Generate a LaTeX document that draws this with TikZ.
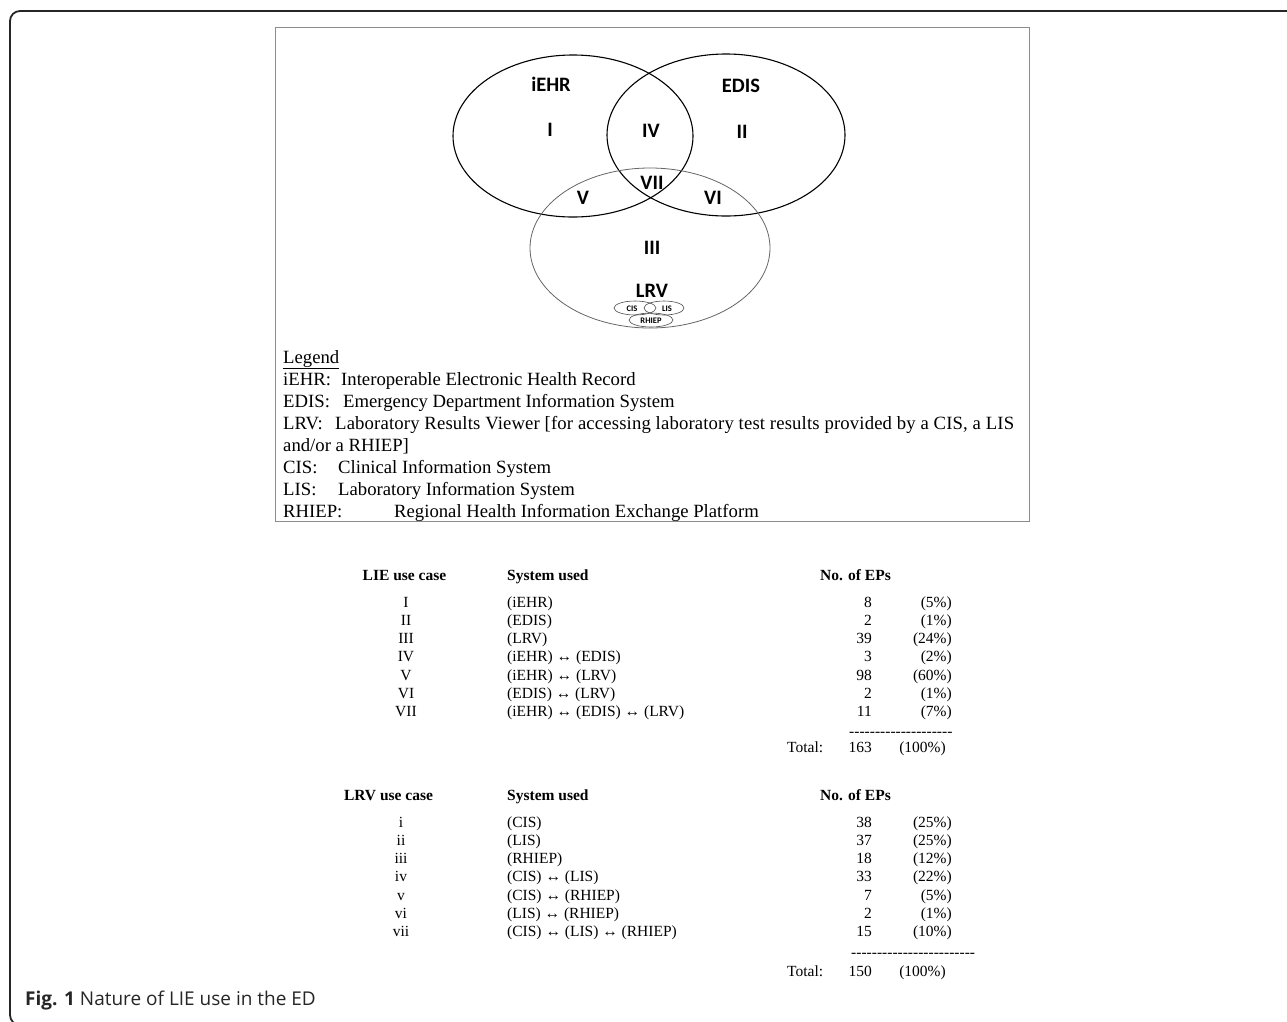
\documentclass[tikz,border=0pt]{standalone}
\usepackage{fontspec}
\setmainfont{Liberation Serif}
\newfontfamily\vennfont{Carlito}
\newfontfamily\capfont{Open Sans}
\newcommand\hyrun[1]{\foreach \q in {1,...,#1}{-\kern0pt}}
\begin{document}
\begin{tikzpicture}[x=1pt,y=-1pt,
  frame/.style={draw=black!85,line width=1.8pt,rounded corners=10pt},
  figbox/.style={draw=black!45,line width=1pt},
  setA/.style={draw=black,line width=1.1pt},
  setC/.style={draw=black!60,line width=0.8pt},
  small/.style={draw=black!70,line width=0.6pt},
  vl/.style={font=\vennfont\bfseries\fontsize{20.5}{24}\selectfont,inner sep=0pt},
  sl/.style={font=\vennfont\bfseries\fontsize{8.5}{10}\selectfont,inner sep=0pt},
  leg/.style={font=\fontsize{18.7}{22}\selectfont,inner sep=0pt,anchor=base west},
  tb/.style={font=\fontsize{15.5}{18}\selectfont,inner sep=0pt},
  th/.style={font=\bfseries\fontsize{15.5}{18}\selectfont,inner sep=0pt,anchor=base},
  cc/.style={tb,anchor=base},
  cw/.style={tb,anchor=base west},
  ce/.style={tb,anchor=base east}]
\useasboundingbox (0,0) rectangle (1287,1021);
\clip (0,0) rectangle (1287,1021);
\fill[white] (0,0) rectangle (1287,1021);
% outer frame
\draw[frame] (10,11) rectangle (1320,1025);
% figure box
\draw[figbox] (275,27) rectangle (1029,521);
% Venn
\draw[setA] (573,136) ellipse [x radius=120,y radius=81];
\draw[setA] (726,135) ellipse [x radius=119,y radius=81];
\draw[setC] (650,248) ellipse [x radius=120,y radius=80];
\node[vl] (iehr) at (551,84) {iEHR};
\node[vl] (edis) at (741,86) {EDIS};
\node[vl] (r1) at (550,130) {I};
\node[vl] (r4) at (651,131) {IV};
\node[vl] (r2) at (742,132) {II};
\node[vl] (r7) at (652,183) {VII};
\node[vl] (r5) at (583,198) {V};
\node[vl] (r6) at (713,198) {VI};
\node[vl] (r3) at (652,248) {III};
\node[vl] (lrv) at (652,291) {LRV};
\draw[small] (635,308) ellipse [x radius=21,y radius=7];
\draw[small] (664,308) ellipse [x radius=20,y radius=7];
\draw[small] (651,320) ellipse [x radius=22,y radius=7];
\node[sl] (cis) at (632,308.5) {CIS};
\node[sl] (lis) at (667,308.5) {LIS};
\node[sl] (rhiep) at (651,320.5) {RHIEP};
% legend
\node[leg] (lg) at (283,363) {\underline{Legend}};
\node[leg] (l1a) at (283,385) {iEHR:};
\node[leg] (l1b) at (341,385) {Interoperable Electronic Health Record};
\node[leg] (l2a) at (283,407) {EDIS:};
\node[leg] (l2b) at (343,407) {Emergency Department Information System};
\node[leg] (l3a) at (283,429) {LRV:};
\node[leg,font=\fontsize{18.7}{22}\selectfont\addfontfeatures{LetterSpace=0.8}] (l3b) at (335,429) {Laboratory Results Viewer [for accessing laboratory test results provided by a CIS, a LIS};
\node[leg] (l3c) at (283,451) {and/or a RHIEP]};
\node[leg] (l4a) at (283,473) {CIS:};
\node[leg] (l4b) at (338,473) {Clinical Information System};
\node[leg] (l5a) at (283,495) {LIS:};
\node[leg] (l5b) at (338,495) {Laboratory Information System};
\node[leg] (l6a) at (283,517) {RHIEP:};
\node[leg] (l6b) at (394,517) {Regional Health Information Exchange Platform};
% table 1
\node[th] (h1a) at (404.5,580) {LIE use case};
\node[th,anchor=base west] (h1b) at (507,580) {System used};
\node[th] (h1c) at (855.5,580) {No. of EPs};
\foreach \n/\s/\v/\p [count=\k from 0] in {I/(iEHR)/8/(5\%),II/(EDIS)/2/(1\%),III/(LRV)/39/(24\%),IV/(iEHR) ↔ (EDIS)/3/(2\%),V/(iEHR) ↔ (LRV)/98/(60\%),VI/(EDIS) ↔ (LRV)/2/(1\%),VII/(iEHR) ↔ (EDIS) ↔ (LRV)/11/(7\%)}{
  \node[cc] (ta\k) at (406,607+18.3*\k) {\n};
  \node[cw] (tb\k) at (507,607+18.3*\k) {\s};
  \node[ce] (tc\k) at (872,607+18.3*\k) {\v};
  \node[ce] (td\k) at (952,607+18.3*\k) {\p};
}
\node[cw] (dash1) at (849,736) {\hyrun{20}};
\node[cw] (tot1) at (787,752) {Total:};
\node[ce] (tot1n) at (872,752) {163};
\node[ce] (tot1p) at (946,752) {(100\%)};
% table 2
\node[th] (h2a) at (388.5,800) {LRV use case};
\node[th,anchor=base west] (h2b) at (507,800) {System used};
\node[th] (h2c) at (855.5,800) {No. of EPs};
\foreach \n/\s/\v/\p [count=\k from 0] in {i/(CIS)/38/(25\%),ii/(LIS)/37/(25\%),iii/(RHIEP)/18/(12\%),iv/(CIS) ↔ (LIS)/33/(22\%),v/(CIS) ↔ (RHIEP)/7/(5\%),vi/(LIS) ↔ (RHIEP)/2/(1\%),vii/(CIS) ↔ (LIS) ↔ (RHIEP)/15/(10\%)}{
  \node[cc] (ua\k) at (401,827+18.3*\k) {\n};
  \node[cw] (ub\k) at (507,827+18.3*\k) {\s};
  \node[ce] (uc\k) at (872,827+18.3*\k) {\v};
  \node[ce] (ud\k) at (952,827+18.3*\k) {\p};
}
\node[cw] (dash2) at (851,957) {\hyrun{24}};
\node[cw] (tot2) at (787,976) {Total:};
\node[ce] (tot2n) at (872,976) {150};
\node[ce] (tot2p) at (946,976) {(100\%)};
% caption
\node[inner sep=0pt,anchor=base west,font=\capfont\fontsize{19}{22}\selectfont,text=black!85] (cap) at (25,1005) {\textbf{Fig. 1} Nature of LIE use in the ED};
\end{tikzpicture}
\end{document}
